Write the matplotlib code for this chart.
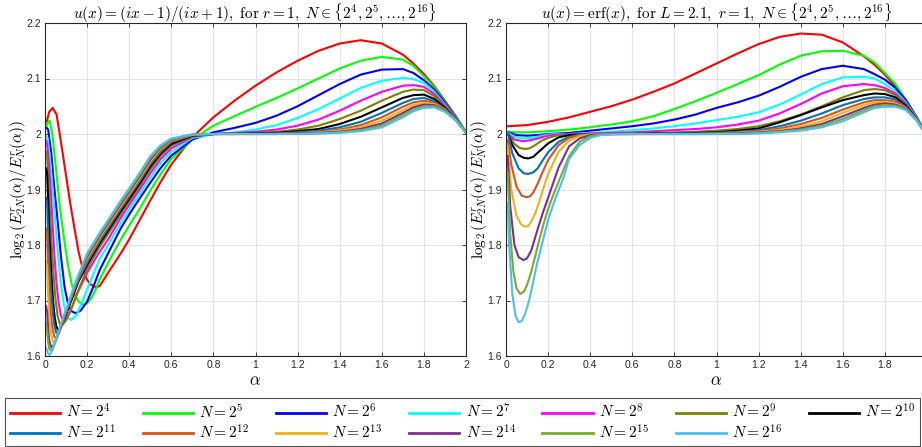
import matplotlib
matplotlib.use("Agg")
import matplotlib.pyplot as plt
from matplotlib.ticker import FuncFormatter, MultipleLocator, FixedLocator

plt.rcParams['mathtext.fontset'] = 'cm'
plt.rcParams['font.family'] = ['Liberation Sans', 'DejaVu Sans']

# ---------------- data ----------------
exponents = [4, 5, 6, 7, 8, 9, 10, 11, 12, 13, 14, 15, 16]
colors = ['#ff0000', '#00ff00', '#0000ff', '#00ffff', '#ff00ff', '#808000', '#000000',
          '#0072BD', '#D95319', '#EDB120', '#7E2F8E', '#77AC30', '#4DBEEE']

# Left panel: u(x)=(ix-1)/(ix+1)
left_common_alpha = [0.26, 0.3, 0.36, 0.4, 0.45, 0.5, 0.55, 0.6, 0.7, 0.8, 0.9, 1.0, 1.1, 1.2,
                     1.3, 1.4, 1.5, 1.6, 1.7, 1.75, 1.8, 1.85, 1.9, 1.95, 2.0]
left_early_alpha = [
    [0.008, 0.02, 0.037, 0.055, 0.07, 0.085, 0.1, 0.12, 0.14, 0.16, 0.18, 0.2, 0.22, 0.243],
    [0.008, 0.015, 0.022, 0.035, 0.053, 0.07, 0.093, 0.11, 0.125, 0.14, 0.16, 0.18, 0.2, 0.22, 0.24],
    [0.008, 0.015, 0.03, 0.045, 0.061, 0.075, 0.093, 0.11, 0.125, 0.145, 0.17, 0.2, 0.23],
    [0.006, 0.012, 0.02, 0.03, 0.045, 0.06, 0.075, 0.09, 0.108, 0.125, 0.15, 0.18, 0.2],
    [0.005, 0.01, 0.018, 0.027, 0.036, 0.045, 0.055, 0.065, 0.075, 0.085, 0.1, 0.12, 0.15, 0.2],
    [0.005, 0.01, 0.016, 0.024, 0.032, 0.04, 0.05, 0.06, 0.07, 0.08, 0.1, 0.13, 0.16, 0.2],
    [0.005, 0.01, 0.015, 0.022, 0.03, 0.038, 0.046, 0.054, 0.062, 0.072, 0.085, 0.1, 0.13, 0.16, 0.2],
    [0.005, 0.01, 0.015, 0.022, 0.03, 0.038, 0.046, 0.053, 0.062, 0.075, 0.09, 0.11, 0.14, 0.17, 0.2],
    [0.005, 0.01, 0.015, 0.02, 0.027, 0.035, 0.045, 0.055, 0.065, 0.08, 0.1, 0.13, 0.16, 0.2],
    [0.005, 0.01, 0.015, 0.02, 0.027, 0.036, 0.045, 0.055, 0.07, 0.09, 0.12, 0.16, 0.2],
    [0.005, 0.01, 0.015, 0.02, 0.03, 0.04, 0.05, 0.065, 0.085, 0.12, 0.16, 0.2],
    [0.005, 0.01, 0.015, 0.02, 0.026, 0.035, 0.045, 0.06, 0.08, 0.12, 0.16, 0.2],
    [0.005, 0.01, 0.015, 0.022, 0.03, 0.04, 0.055, 0.075, 0.1, 0.14, 0.2],
]
left_early_y = [
    [2.022, 2.04, 2.047, 2.035, 2.0, 1.963, 1.925, 1.875, 1.83, 1.787, 1.756, 1.737, 1.728, 1.724],
    [2.015, 2.022, 2.024, 2.0, 1.935, 1.87, 1.805, 1.762, 1.733, 1.712, 1.698, 1.692, 1.695, 1.704, 1.719],
    [2.011, 2.008, 1.965, 1.9, 1.84, 1.782, 1.724, 1.693, 1.681, 1.677, 1.682, 1.698, 1.725],
    [1.995, 1.993, 1.97, 1.93, 1.86, 1.79, 1.732, 1.692, 1.669, 1.665, 1.674, 1.7, 1.72],
    [1.988, 1.982, 1.95, 1.9, 1.84, 1.78, 1.73, 1.695, 1.674, 1.665, 1.666, 1.68, 1.71, 1.75],
    [1.968, 1.96, 1.92, 1.86, 1.8, 1.75, 1.702, 1.672, 1.658, 1.655, 1.664, 1.69, 1.72, 1.757],
    [1.938, 1.93, 1.88, 1.81, 1.75, 1.70, 1.67, 1.653, 1.647, 1.65, 1.66, 1.675, 1.705, 1.735, 1.764],
    [1.885, 1.875, 1.82, 1.76, 1.71, 1.675, 1.652, 1.642, 1.642, 1.652, 1.667, 1.69, 1.72, 1.746, 1.768],
    [1.83, 1.815, 1.76, 1.72, 1.68, 1.65, 1.634, 1.633, 1.64, 1.655, 1.678, 1.71, 1.741, 1.772],
    [1.77, 1.76, 1.71, 1.675, 1.645, 1.627, 1.625, 1.632, 1.648, 1.67, 1.703, 1.743, 1.776],
    [1.69, 1.68, 1.65, 1.628, 1.616, 1.618, 1.626, 1.642, 1.663, 1.7, 1.743, 1.779],
    [1.66, 1.645, 1.625, 1.613, 1.61, 1.614, 1.623, 1.64, 1.662, 1.703, 1.746, 1.782],
    [1.615, 1.61, 1.604, 1.602, 1.606, 1.615, 1.632, 1.656, 1.684, 1.728, 1.785],
]
left_common_y = [
    [1.726, 1.75, 1.785, 1.81, 1.845, 1.88, 1.914, 1.945, 1.994, 2.03, 2.06, 2.087, 2.111, 2.132, 2.15, 2.163, 2.169, 2.163, 2.143, 2.127, 2.108, 2.086, 2.06, 2.033, 2.003],
    [1.738, 1.768, 1.81, 1.835, 1.865, 1.898, 1.928, 1.955, 1.99, 2.015, 2.032, 2.049, 2.065, 2.082, 2.1, 2.118, 2.132, 2.139, 2.134, 2.123, 2.104, 2.084, 2.058, 2.032, 2.003],
    [1.755, 1.785, 1.83, 1.855, 1.884, 1.912, 1.939, 1.961, 1.99, 2.003, 2.011, 2.02, 2.033, 2.05, 2.07, 2.09, 2.107, 2.116, 2.117, 2.11, 2.097, 2.08, 2.056, 2.031, 2.003],
    [1.775, 1.8, 1.84, 1.864, 1.892, 1.921, 1.948, 1.968, 1.993, 1.999, 2.003, 2.008, 2.016, 2.029, 2.045, 2.064, 2.083, 2.096, 2.101, 2.099, 2.092, 2.076, 2.053, 2.03, 2.003],
    [1.788, 1.81, 1.849, 1.872, 1.9, 1.929, 1.955, 1.974, 1.995, 2.0, 2.002, 2.004, 2.008, 2.015, 2.026, 2.042, 2.06, 2.076, 2.087, 2.088, 2.085, 2.072, 2.051, 2.029, 2.003],
    [1.797, 1.82, 1.856, 1.878, 1.906, 1.936, 1.961, 1.979, 1.996, 2.0, 2.001, 2.002, 2.004, 2.008, 2.015, 2.027, 2.042, 2.06, 2.076, 2.08, 2.079, 2.068, 2.049, 2.028, 2.003],
    [1.803, 1.826, 1.861, 1.883, 1.911, 1.941, 1.965, 1.982, 1.997, 2.0, 2.0, 2.001, 2.002, 2.005, 2.009, 2.018, 2.031, 2.048, 2.065, 2.07, 2.071, 2.063, 2.047, 2.027, 2.003],
    [1.807, 1.83, 1.865, 1.887, 1.915, 1.945, 1.968, 1.985, 1.998, 2.0, 2.0, 2.0, 2.001, 2.003, 2.006, 2.012, 2.022, 2.038, 2.056, 2.063, 2.065, 2.059, 2.045, 2.027, 2.003],
    [1.811, 1.834, 1.868, 1.89, 1.918, 1.948, 1.971, 1.987, 1.998, 2.0, 2.0, 2.0, 2.0, 2.002, 2.004, 2.008, 2.016, 2.03, 2.049, 2.057, 2.06, 2.056, 2.044, 2.026, 2.003],
    [1.814, 1.837, 1.871, 1.893, 1.921, 1.951, 1.974, 1.989, 1.999, 2.0, 2.0, 2.0, 2.0, 2.001, 2.003, 2.006, 2.012, 2.024, 2.043, 2.052, 2.056, 2.054, 2.043, 2.026, 2.003],
    [1.817, 1.84, 1.874, 1.896, 1.924, 1.954, 1.976, 1.99, 1.999, 2.0, 2.0, 2.0, 2.0, 2.001, 2.002, 2.004, 2.009, 2.019, 2.038, 2.048, 2.053, 2.052, 2.042, 2.025, 2.003],
    [1.82, 1.843, 1.877, 1.899, 1.927, 1.957, 1.978, 1.991, 1.999, 2.0, 2.0, 2.0, 2.0, 2.0, 2.001, 2.003, 2.007, 2.015, 2.034, 2.044, 2.05, 2.05, 2.041, 2.025, 2.003],
    [1.822, 1.845, 1.88, 1.902, 1.93, 1.96, 1.98, 1.992, 1.999, 2.0, 2.0, 2.0, 2.0, 2.0, 2.001, 2.002, 2.005, 2.012, 2.03, 2.041, 2.047, 2.048, 2.04, 2.025, 2.003],
]

# Right panel: u(x)=erf(x), L=2.1
right_common_alpha = [0.3, 0.35, 0.4, 0.45, 0.5, 0.6, 0.7, 0.8, 0.9, 1.0, 1.1, 1.2, 1.3,
                      1.4, 1.5, 1.6, 1.7, 1.75, 1.8, 1.85, 1.9, 1.95, 2.0]
right_early_alpha = [
    [0.01, 0.1, 0.2],
    [0.01, 0.05, 0.1, 0.2],
    [0.01, 0.05, 0.1, 0.15, 0.2],
    [0.01, 0.04, 0.08, 0.12, 0.16, 0.2, 0.25],
    [0.01, 0.04, 0.082, 0.12, 0.16, 0.2, 0.25],
    [0.01, 0.04, 0.065, 0.089, 0.11, 0.13, 0.17, 0.2, 0.25],
    [0.01, 0.03, 0.06, 0.085, 0.106, 0.13, 0.15, 0.2, 0.25],
    [0.01, 0.03, 0.06, 0.085, 0.106, 0.13, 0.15, 0.175, 0.2, 0.25],
    [0.008, 0.025, 0.05, 0.075, 0.098, 0.115, 0.13, 0.15, 0.17, 0.2, 0.25],
    [0.008, 0.025, 0.05, 0.07, 0.09, 0.105, 0.12, 0.14, 0.16, 0.18, 0.2, 0.25],
    [0.008, 0.02, 0.04, 0.06, 0.083, 0.1, 0.12, 0.15, 0.175, 0.2, 0.25],
    [0.008, 0.02, 0.035, 0.05, 0.067, 0.085, 0.1, 0.12, 0.14, 0.16, 0.18, 0.2, 0.225, 0.25],
    [0.008, 0.015, 0.03, 0.045, 0.06, 0.075, 0.09, 0.11, 0.13, 0.145, 0.17, 0.2, 0.22, 0.24, 0.27],
]
right_early_y = [
    [2.014, 2.016, 2.022],
    [2.004, 2.003, 2.003, 2.005],
    [2.003, 1.998, 1.997, 1.998, 2.0],
    [2.002, 1.995, 1.992, 1.993, 1.996, 1.999, 2.0],
    [2.0, 1.99, 1.987, 1.989, 1.993, 1.997, 1.999],
    [2.0, 1.982, 1.975, 1.973, 1.974, 1.978, 1.988, 1.993, 1.998],
    [2.0, 1.98, 1.962, 1.957, 1.956, 1.959, 1.966, 1.983, 1.994],
    [2.0, 1.965, 1.938, 1.929, 1.928, 1.931, 1.938, 1.953, 1.967, 1.986],
    [1.99, 1.945, 1.905, 1.889, 1.886, 1.888, 1.895, 1.91, 1.928, 1.953, 1.98],
    [1.975, 1.9, 1.853, 1.838, 1.833, 1.834, 1.842, 1.858, 1.88, 1.905, 1.928, 1.968],
    [1.96, 1.87, 1.8, 1.778, 1.773, 1.776, 1.79, 1.828, 1.858, 1.885, 1.94],
    [1.93, 1.82, 1.752, 1.722, 1.712, 1.716, 1.728, 1.752, 1.782, 1.812, 1.84, 1.865, 1.891, 1.914],
    [1.876, 1.8, 1.712, 1.673, 1.661, 1.663, 1.675, 1.7, 1.735, 1.762, 1.8, 1.845, 1.868, 1.889, 1.918],
]
right_common_y = [
    [2.03, 2.035, 2.04, 2.045, 2.05, 2.062, 2.076, 2.091, 2.109, 2.127, 2.145, 2.162, 2.175, 2.181, 2.179, 2.165, 2.14, 2.125, 2.107, 2.085, 2.058, 2.028, 1.997],
    [2.008, 2.01, 2.012, 2.015, 2.017, 2.023, 2.032, 2.045, 2.059, 2.074, 2.09, 2.106, 2.125, 2.141, 2.149, 2.15, 2.141, 2.129, 2.11, 2.09, 2.062, 2.031, 1.997],
    [2.002, 2.004, 2.006, 2.008, 2.01, 2.014, 2.019, 2.026, 2.035, 2.047, 2.057, 2.069, 2.085, 2.103, 2.117, 2.123, 2.117, 2.108, 2.098, 2.083, 2.061, 2.031, 1.997],
    [2.0, 2.001, 2.002, 2.003, 2.004, 2.007, 2.01, 2.014, 2.019, 2.025, 2.031, 2.039, 2.053, 2.071, 2.09, 2.102, 2.103, 2.1, 2.09, 2.077, 2.057, 2.03, 1.997],
    [2.0, 2.0, 2.001, 2.001, 2.002, 2.003, 2.005, 2.007, 2.009, 2.012, 2.017, 2.024, 2.037, 2.054, 2.073, 2.086, 2.09, 2.088, 2.083, 2.073, 2.055, 2.029, 1.997],
    [1.999, 2.0, 2.0, 2.0, 2.0, 2.001, 2.002, 2.003, 2.004, 2.006, 2.009, 2.014, 2.023, 2.035, 2.05, 2.066, 2.079, 2.081, 2.079, 2.07, 2.053, 2.028, 1.997],
    [1.998, 1.999, 2.0, 2.0, 2.0, 2.0, 2.001, 2.001, 2.002, 2.003, 2.006, 2.01, 2.021, 2.034, 2.048, 2.061, 2.07, 2.073, 2.072, 2.066, 2.051, 2.027, 1.997],
    [1.995, 1.999, 2.0, 2.0, 2.0, 2.0, 2.0, 2.001, 2.001, 2.002, 2.004, 2.007, 2.014, 2.024, 2.037, 2.052, 2.063, 2.066, 2.066, 2.062, 2.049, 2.027, 1.997],
    [1.993, 1.998, 1.999, 2.0, 2.0, 2.0, 2.0, 2.0, 2.0, 2.001, 2.003, 2.005, 2.01, 2.018, 2.029, 2.044, 2.057, 2.061, 2.061, 2.058, 2.047, 2.026, 1.997],
    [1.988, 1.996, 1.999, 2.0, 2.0, 2.0, 2.0, 2.0, 2.0, 2.0, 2.002, 2.004, 2.007, 2.013, 2.023, 2.038, 2.052, 2.057, 2.058, 2.055, 2.046, 2.026, 1.997],
    [1.978, 1.992, 1.998, 1.9995, 2.0, 2.0, 2.0, 2.0, 2.0, 2.0, 2.001, 2.003, 2.005, 2.01, 2.018, 2.032, 2.047, 2.053, 2.055, 2.053, 2.045, 2.025, 1.997],
    [1.96, 1.986, 1.996, 1.999, 2.0, 2.0, 2.0, 2.0, 2.0, 2.0, 2.0, 2.002, 2.004, 2.008, 2.015, 2.027, 2.043, 2.05, 2.052, 2.051, 2.044, 2.025, 1.997],
    [1.955, 1.98, 1.993, 1.998, 1.999, 2.0, 2.0, 2.0, 2.0, 2.0, 2.0, 2.001, 2.003, 2.006, 2.012, 2.023, 2.039, 2.047, 2.049, 2.049, 2.043, 2.025, 1.997],
]

left_title = r'$u(x)=(ix-1)/(ix+1),\ \mathrm{for}\ r=1,\ N\in\{2^4,2^5,\ldots,2^{16}\}$'
right_title = r'$u(x)=\mathrm{erf}(x),\ \mathrm{for}\ L=2.1,\ r=1,\ N\in\{2^4,2^5,\ldots,2^{16}\}$'
ylabel = r'$\log_2(E^r_{2N}(\alpha)/E^r_N(\alpha))$'
xlabel = r'$\alpha$'

# ---------------- plot ----------------
W, H = 922, 447
fig = plt.figure(figsize=(W / 100, H / 100), dpi=100)

axL = fig.add_axes([45 / W, 1 - 356 / H, 421 / W, 333 / H])
axR = fig.add_axes([506 / W, 1 - 356 / H, 421 / W, 333 / H])

axis_col = '#262626'
fmt = FuncFormatter(lambda v, p: ('%g' % round(v, 4)))


def draw(ax, early_a, early_y, common_a, common_y, title, xticks):
    handles = []
    for i in range(len(colors)):
        xs = list(early_a[i]) + list(common_a)
        ys = list(early_y[i]) + list(common_y[i])
        h, = ax.plot(xs, ys, color=colors[i], lw=1.5, solid_joinstyle='round')
        handles.append(h)
    ax.set_xlim(0, 2)
    ax.set_ylim(1.6, 2.2)
    ax.xaxis.set_major_locator(FixedLocator(xticks))
    ax.yaxis.set_major_locator(MultipleLocator(0.1))
    ax.xaxis.set_major_formatter(fmt)
    ax.yaxis.set_major_formatter(fmt)
    ax.grid(True, color='#e3e3e3', lw=0.8)
    ax.set_axisbelow(True)
    ax.tick_params(direction='in', top=True, right=True, length=3, width=0.6,
                   labelsize=7.5, colors=axis_col, pad=3)
    for s in ax.spines.values():
        s.set_color(axis_col)
        s.set_linewidth(0.8)
    ax.set_title(title, fontsize=11, pad=3)
    ax.set_xlabel(xlabel, fontsize=12, labelpad=2)
    ax.set_ylabel(ylabel, fontsize=11, labelpad=-1)
    return handles


ticks_full = [0, 0.2, 0.4, 0.6, 0.8, 1.0, 1.2, 1.4, 1.6, 1.8, 2.0]
handles = draw(axL, left_early_alpha, left_early_y, left_common_alpha, left_common_y,
               left_title, ticks_full)
draw(axR, right_early_alpha, right_early_y, right_common_alpha, right_common_y,
     right_title, ticks_full[:-1])

labels = [r'$N=2^{%d}$' % e for e in exponents]
# row-major ordering for a 7-column, 2-row legend
order = [0, 7, 1, 8, 2, 9, 3, 10, 4, 11, 5, 12, 6]
leg = fig.legend([handles[i] for i in order], [labels[i] for i in order],
                 loc='lower left', ncol=7, mode='expand',
                 bbox_to_anchor=(5 / W, 1 - 446 / H, 915 / W, 56 / H),
                 fontsize=11, handlelength=3.3, handletextpad=0.4, columnspacing=1.0,
                 borderaxespad=0, frameon=True, fancybox=False, labelspacing=0.15,
                 borderpad=0.3)
leg.get_frame().set_edgecolor(axis_col)
leg.get_frame().set_linewidth(0.8)
for lh in leg.get_lines():
    lh.set_linewidth(2.0)

fig.savefig('out.png', dpi=100)
